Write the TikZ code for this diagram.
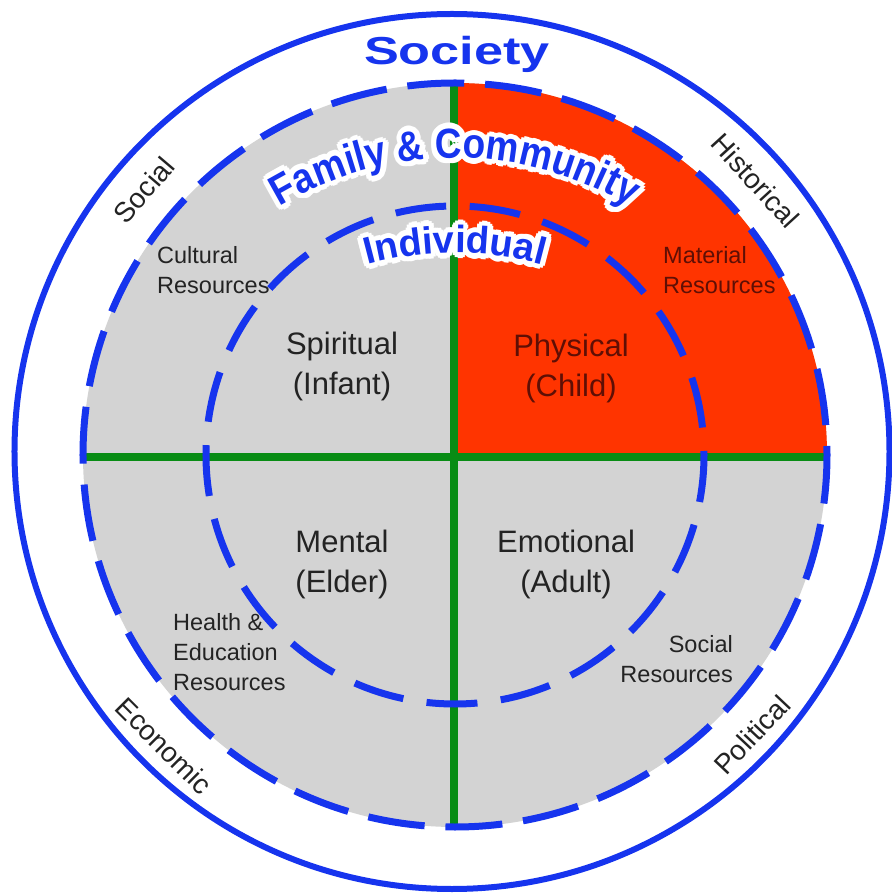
\documentclass[tikz,border=0pt]{standalone}
\usepackage{graphicx}
\usepackage{fontspec}
\setmainfont{Liberation Sans}
\newfontfamily\titlefont[FakeStretch=0.88]{Liberation Sans}
\usetikzlibrary{decorations.text}

\definecolor{ringblue}{RGB}{22,52,238}
\definecolor{crossgreen}{RGB}{8,140,20}
\definecolor{quadgray}{RGB}{211,211,211}
\definecolor{quadred}{RGB}{255,52,0}
\definecolor{inktext}{RGB}{35,35,35}
\definecolor{redtext}{RGB}{95,15,5}

\newcommand{\famfont}{\titlefont\bfseries\fontsize{42}{44}\selectfont}
\newcommand{\indfont}{\bfseries\fontsize{38}{40}\selectfont}

\begin{document}
\begin{tikzpicture}[x=1pt,y=1pt,
    ring/.style={draw=ringblue, line width=6pt},
    dashring/.style={draw=ringblue, line width=7pt},
    cross/.style={draw=crossgreen, line width=8pt},
    age/.style={font=\fontsize{31}{40}\selectfont, text=inktext, align=center, anchor=base, inner sep=0pt},
    res/.style={font=\fontsize{23.5}{30}\selectfont, text=inktext, align=left, anchor=base west, inner sep=0pt},
    sphere/.style={font=\fontsize{28}{30}\selectfont, text=inktext, inner sep=0pt},
    famtext/.style={decorate, decoration={text along path, text align=center, text={|\famfont|Family {\&} Community}, text color=#1}},
    indtext/.style={decorate, decoration={text along path, text align=center, text={|\indfont|Individual}, text color=#1}}]

    \useasboundingbox (-455,-438) rectangle (436,455);

    % quadrants
    \fill[quadgray] (0,0) circle (372);
    \fill[quadred] (0,0) -- (372,0) arc (0:90:372) -- cycle;

    % the cross
    \coordinate (west) at (-372,-2);
    \coordinate (east) at (372,-2);
    \coordinate (north) at (-1,372);
    \coordinate (south) at (-1,-372);
    \draw[cross] (west) -- (east);
    \draw[cross] (north) -- (south);

    % rings
    \draw[dashring, dash pattern=on 51pt off 23.5pt, dash phase=47pt] (0,0) circle (249);
    \draw[dashring, dash pattern=on 57pt off 20.9pt, dash phase=48pt] (0,0) circle (372);
    \draw[ring] (-3,3.5) circle (437.5);

    \node[font=\bfseries\fontsize{39}{40}\selectfont, text=ringblue, anchor=base] (society) at (2,390) {\scalebox{1.34}[1]{Society}};

    \node[sphere, rotate=49.6] (social) at (139.6:408.6) {Social};
    \node[sphere, rotate=-47.6] (hist) at (42.4:407) {Historical};
    \node[sphere, rotate=-45] (econ) at (225:411) {Economic};
    \node[sphere, rotate=46.7] (polit) at (-43.3:408) {Political};

    % multi-line labels sit on the baseline of their last line
    \node[age] (spirit) at (-113,60) {Spiritual\\(Infant)};
    \node[age, text=redtext] (phys) at (116,58) {Physical\\(Child)};
    \node[age] (mental) at (-113,-137) {Mental\\(Elder)};
    \node[age] (emot) at (111,-137) {Emotional\\(Adult)};

    \node[res] (cult) at (-298,161) {Cultural\\Resources};
    \node[res, text=redtext] (mat) at (208,161) {Material\\Resources};
    \node[res] (health) at (-282,-235) {Health \&\\Education\\Resources};
    \node[res, align=right, anchor=base east] (socres) at (278,-227) {Social\\Resources};

    % curved titles with a white glow
    \foreach \r in {2,3.8,5.5}
      \foreach \a in {0,30,...,330} {
        \path[shift={(\a:\r)}, shift={(0,-43)}, famtext=white] (125:340) arc[start angle=125, end angle=55, radius=340];
        \path[shift={(\a:\r)}, shift={(0,-128)}, indtext=white] (110:330) arc[start angle=110, end angle=70, radius=330];
      }
    \path[shift={(0,-43)}, famtext=ringblue] (125:340) arc[start angle=125, end angle=55, radius=340];
    \path[shift={(0,-128)}, indtext=ringblue] (110:330) arc[start angle=110, end angle=70, radius=330];
\end{tikzpicture}
\end{document}
